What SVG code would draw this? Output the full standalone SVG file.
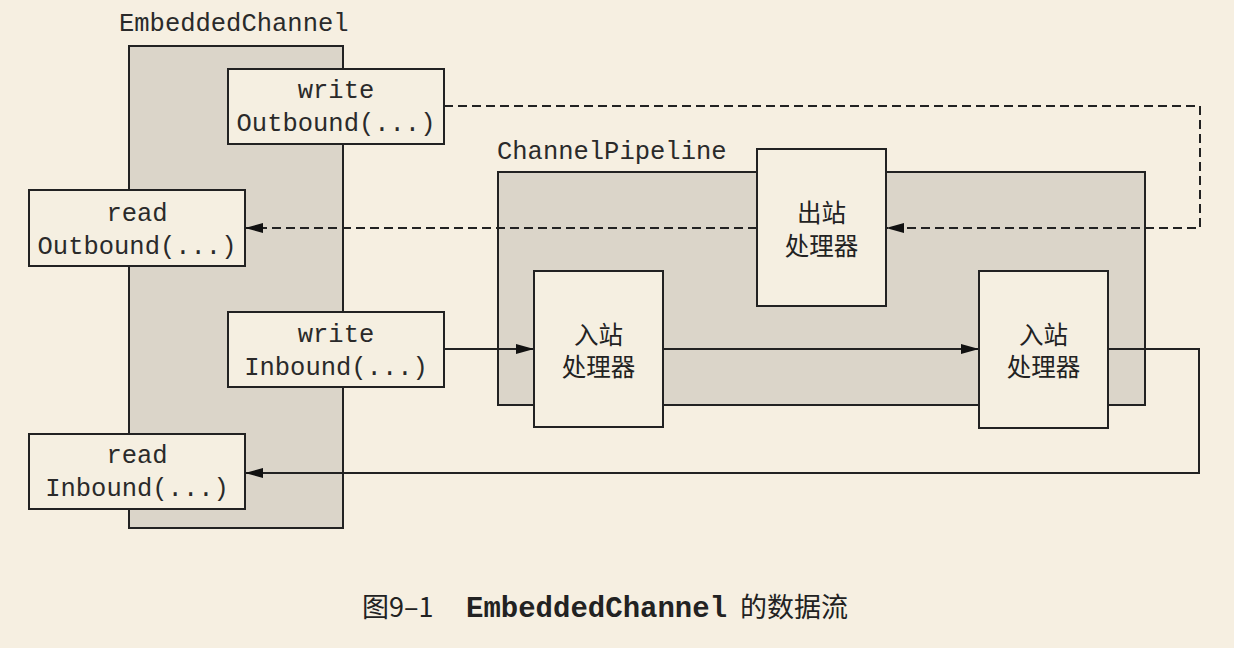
<svg xmlns="http://www.w3.org/2000/svg" width="1234" height="648" viewBox="0 0 1234 648">
<style>
.bg{fill:#f6efe1}
.grp{fill:#dbd5c9;stroke:#222;stroke-width:2}
.box{fill:#f5efe1;stroke:#222;stroke-width:2}
.mono{font-family:"Liberation Mono","DejaVu Sans Mono",monospace;font-size:25.5px;fill:#2a2a2a;text-anchor:middle}
.lbl{font-family:"Liberation Mono","DejaVu Sans Mono",monospace;font-size:25.5px;fill:#2a2a2a}
.cjk{font-family:"Noto Sans CJK SC","Noto Sans",sans-serif;font-size:24.5px;fill:#222;text-anchor:middle}
.ln{fill:none;stroke:#222;stroke-width:2}
.dash{stroke-dasharray:9 5}
</style>
<defs>
<marker id="arr" viewBox="0 0 18 10" refX="18" refY="5" markerWidth="18" markerHeight="10" markerUnits="userSpaceOnUse" orient="auto">
<path d="M0,0 L18,5 L0,10 Z" fill="#111"/>
</marker>
</defs>
<rect class="bg" x="0" y="0" width="1234" height="648"/>

<g id="embeddedChannel">
<rect class="grp" x="129" y="46" width="214" height="482"/>
<text class="lbl" x="119" y="31">EmbeddedChannel</text>
</g>
<g id="channelPipeline">
<rect class="grp" x="498" y="172" width="647" height="233"/>
<text class="lbl" x="497" y="159">ChannelPipeline</text>
</g>

<g id="connectors">
<polyline class="ln dash" points="444,106 1200,106 1200,228 886,228" marker-end="url(#arr)"/>
<line class="ln dash" x1="757" y1="228" x2="245" y2="228" marker-end="url(#arr)"/>
<line class="ln" x1="444" y1="349" x2="534" y2="349" marker-end="url(#arr)"/>
<line class="ln" x1="663" y1="349" x2="979" y2="349" marker-end="url(#arr)"/>
<polyline class="ln" points="1108,349 1199,349 1199,473 245,473" marker-end="url(#arr)"/>
</g>

<g id="writeOutbound">
<rect class="box" x="228" y="69" width="216" height="75"/>
<text class="mono" x="336" y="98">write</text>
<text class="mono" x="336" y="131">Outbound(...)</text>
</g>
<g id="readOutbound">
<rect class="box" x="29" y="190" width="216" height="76"/>
<text class="mono" x="137" y="221">read</text>
<text class="mono" x="137" y="254">Outbound(...)</text>
</g>
<g id="writeInbound">
<rect class="box" x="228" y="312" width="216" height="75"/>
<text class="mono" x="336" y="342">write</text>
<text class="mono" x="336" y="375">Inbound(...)</text>
</g>
<g id="readInbound">
<rect class="box" x="29" y="434" width="216" height="75"/>
<text class="mono" x="137" y="463">read</text>
<text class="mono" x="137" y="496">Inbound(...)</text>
</g>

<g id="outboundHandler">
<rect class="box" x="757" y="149" width="129" height="157"/>
<text class="cjk" x="821.5" y="222">出站</text>
<text class="cjk" x="821.5" y="255">处理器</text>
</g>
<g id="inboundHandler1">
<rect class="box" x="534" y="271" width="129" height="156"/>
<text class="cjk" x="598.5" y="344">入站</text>
<text class="cjk" x="598.5" y="376">处理器</text>
</g>
<g id="inboundHandler2">
<rect class="box" x="979" y="271" width="129" height="157"/>
<text class="cjk" x="1043.5" y="344">入站</text>
<text class="cjk" x="1043.5" y="376">处理器</text>
</g>

<g id="caption">
<text x="362" y="617" style="font-family:'Noto Sans CJK SC','Noto Sans',sans-serif;font-size:27px;fill:#222">图9–1</text>
<text x="466" y="617" style="font-family:'Liberation Mono',monospace;font-size:29px;font-weight:bold;fill:#222">EmbeddedChannel</text>
<text x="740" y="617" style="font-family:'Noto Sans CJK SC',sans-serif;font-size:27px;fill:#222">的数据流</text>
</g>
</svg>
